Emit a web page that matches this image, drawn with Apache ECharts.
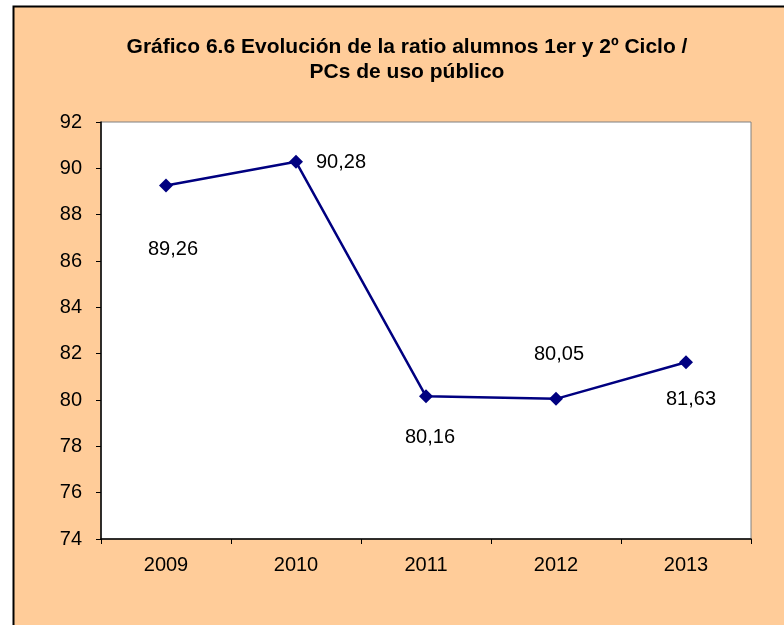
<!DOCTYPE html>
<html>
<head>
<meta charset="utf-8">
<script src="https://cdn.jsdelivr.net/npm/echarts@6/dist/echarts.min.js"></script>
<style>
  html, body { margin: 0; padding: 0; background: #fff; }
  #chartContainer { width: 784px; height: 625px; }
</style>
</head>
<body>
<div id="chartContainer"></div>
<script>
var years = ['2009', '2010', '2011', '2012', '2013'];
var ratios = [89.26, 90.28, 80.16, 80.05, 81.63];
var labelOffsets = [[7, 64], [45, 1], [4, 41], [3, -44], [5, 37]];
var yTicks = { min: 74, max: 92, interval: 2 };

var chart = echarts.init(document.getElementById('chartContainer'));

var points = [];
for (var i = 0; i < ratios.length; i++) {
    points.push({
        value: ratios[i],
        label: { offset: labelOffsets[i] }
    });
}

var font = '"Liberation Sans", Arial, sans-serif';

var option = {
    animation: false,
    backgroundColor: '#fff',
    graphic: [{
        type: 'rect',
        z: -10,
        shape: { x: 13.5, y: 6.5, width: 800, height: 700 },
        style: { fill: '#FFCC99', stroke: '#000', lineWidth: 2 }
    }],
    title: {
        text: 'Gráfico 6.6 Evolución de la ratio alumnos 1er y 2º Ciclo /\nPCs de uso público',
        left: 402,
        textAlign: 'center',
        top: 30,
        textStyle: {
            fontFamily: font,
            fontSize: 21,
            fontWeight: 'bold',
            color: '#000',
            lineHeight: 25
        }
    },
    grid: {
        left: 101,
        right: 33,
        top: 122,
        bottom: 86,
        show: true,
        backgroundColor: '#fff',
        borderColor: '#808080',
        borderWidth: 1
    },
    xAxis: {
        type: 'category',
        data: years,
        boundaryGap: true,
        axisLine: { lineStyle: { color: '#000', width: 1.5 } },
        axisTick: { show: true, length: 5, lineStyle: { color: '#000' } },
        axisLabel: { fontFamily: font, fontSize: 20, color: '#000', margin: 16 }
    },
    yAxis: {
        type: 'value',
        min: yTicks.min,
        max: yTicks.max,
        interval: yTicks.interval,
        splitLine: { show: false },
        axisLine: { show: true, lineStyle: { color: '#000', width: 1.5 } },
        axisTick: { show: true, length: 5, lineStyle: { color: '#000' } },
        axisLabel: { fontFamily: font, fontSize: 20, color: '#000', margin: 19 }
    },
    series: [{
        type: 'line',
        data: points,
        symbol: 'diamond',
        symbolSize: 14,
        lineStyle: { color: '#000080', width: 2.5 },
        itemStyle: { color: '#000080' },
        label: {
            show: true,
            position: 'inside',
            formatter: function (p) { return p.value.toFixed(2).replace('.', ','); },
            fontFamily: font,
            fontSize: 20,
            color: '#000'
        }
    }]
};

chart.setOption(option);
</script>
</body>
</html>
